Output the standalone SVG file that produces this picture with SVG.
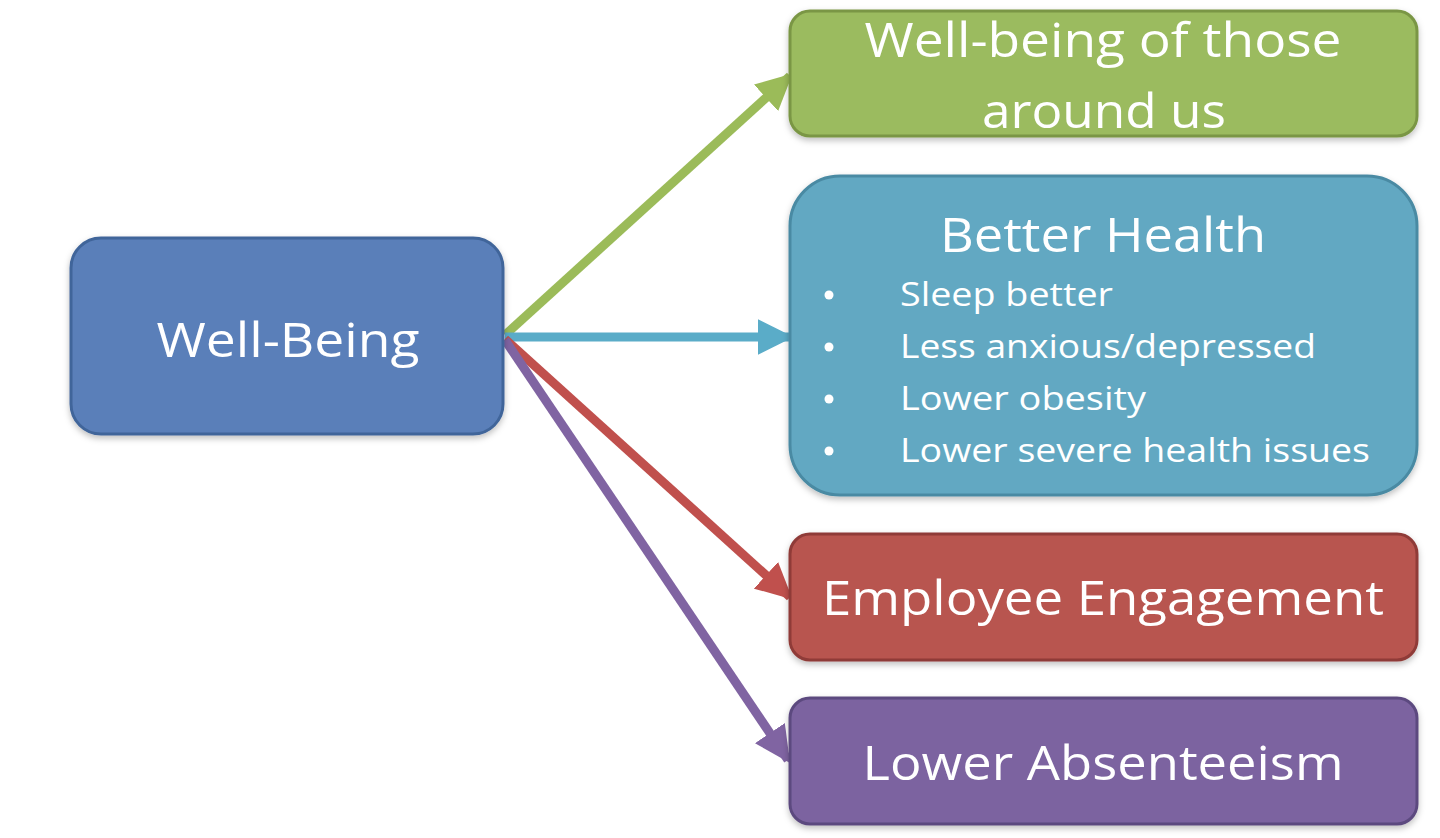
<svg xmlns="http://www.w3.org/2000/svg" width="1440" height="838" viewBox="0 0 1440 838">
<style>
.box{stroke-width:3}
.lbl{font-family:"Open Sans","Liberation Sans",sans-serif;fill:#ffffff;text-anchor:middle}
.big{font-size:48px}
.bul{font-family:"Open Sans","Liberation Sans",sans-serif;fill:#ffffff;font-size:33px}
.conn{fill:none;stroke-width:9}
</style>
<defs>
<filter id="sh" x="-10%" y="-10%" width="120%" height="130%">
<feDropShadow dx="0" dy="3" stdDeviation="3" flood-color="#000" flood-opacity="0.25"/>
</filter>
<marker id="mg" viewBox="0 0 10 10" refX="9" refY="5" markerWidth="4" markerHeight="4" orient="auto" markerUnits="strokeWidth"><path d="M0,0 L10,5 L0,10 Z" fill="#9bbb59"/></marker>
<marker id="mt" viewBox="0 0 10 10" refX="9" refY="5" markerWidth="4" markerHeight="4" orient="auto" markerUnits="strokeWidth"><path d="M0,0 L10,5 L0,10 Z" fill="#5aacc8"/></marker>
<marker id="mr" viewBox="0 0 10 10" refX="9" refY="5" markerWidth="4" markerHeight="4" orient="auto" markerUnits="strokeWidth"><path d="M0,0 L10,5 L0,10 Z" fill="#c0504d"/></marker>
<marker id="mp" viewBox="0 0 10 10" refX="9" refY="5" markerWidth="4" markerHeight="4" orient="auto" markerUnits="strokeWidth"><path d="M0,0 L10,5 L0,10 Z" fill="#8064a2"/></marker>
</defs>
<rect width="1440" height="838" fill="#ffffff"/>

<g id="connectors">
<line class="conn" x1="505" y1="335" x2="790" y2="76" stroke="#9bbb59" marker-end="url(#mg)"/>
<line class="conn" x1="505" y1="337" x2="790" y2="337" stroke="#5aacc8" marker-end="url(#mt)"/>
<line class="conn" x1="505" y1="339" x2="790" y2="597" stroke="#c0504d" marker-end="url(#mr)"/>
<line class="conn" x1="505" y1="340" x2="788" y2="760" stroke="#8064a2" marker-end="url(#mp)"/>
</g>

<g id="node-wellbeing">
<rect class="box" x="71" y="238" width="432" height="196" rx="30" fill="#5a7fb9" stroke="#41659a" filter="url(#sh)"/>
<text class="lbl big" x="288" y="357" textLength="263" lengthAdjust="spacingAndGlyphs">Well-Being</text>
</g>

<g id="node-others">
<rect class="box" x="790" y="11" width="627" height="125" rx="20" fill="#9bbb5e" stroke="#7a9644" filter="url(#sh)"/>
<text class="lbl big" x="1103" y="57" textLength="477" lengthAdjust="spacingAndGlyphs">Well-being of those</text>
<text class="lbl big" x="1104" y="128" textLength="244" lengthAdjust="spacingAndGlyphs">around us</text>
</g>

<g id="node-health">
<rect class="box" x="790" y="176" width="627" height="319" rx="50" fill="#62a8c2" stroke="#4a8aa3" filter="url(#sh)"/>
<text class="lbl big" x="1103" y="252" textLength="326" lengthAdjust="spacingAndGlyphs">Better Health</text>
<g fill="#ffffff">
<circle cx="829" cy="295" r="4.5"/>
<circle cx="829" cy="347" r="4.5"/>
<circle cx="829" cy="399" r="4.5"/>
<circle cx="829" cy="451" r="4.5"/>
</g>
<text class="bul" x="900" y="306" textLength="213" lengthAdjust="spacingAndGlyphs">Sleep better</text>
<text class="bul" x="900" y="358" textLength="416" lengthAdjust="spacingAndGlyphs">Less anxious/depressed</text>
<text class="bul" x="900" y="410" textLength="246" lengthAdjust="spacingAndGlyphs">Lower obesity</text>
<text class="bul" x="900" y="462" textLength="470" lengthAdjust="spacingAndGlyphs">Lower severe health issues</text>
</g>

<g id="node-engagement">
<rect class="box" x="790" y="534" width="627" height="126" rx="20" fill="#b8554f" stroke="#8f3b37" filter="url(#sh)"/>
<text class="lbl big" x="1103" y="615" textLength="562" lengthAdjust="spacingAndGlyphs">Employee Engagement</text>
</g>

<g id="node-absenteeism">
<rect class="box" x="790" y="698" width="627" height="126" rx="20" fill="#7b63a0" stroke="#5c4a7f" filter="url(#sh)"/>
<text class="lbl big" x="1103" y="780" textLength="481" lengthAdjust="spacingAndGlyphs">Lower Absenteeism</text>
</g>
</svg>
